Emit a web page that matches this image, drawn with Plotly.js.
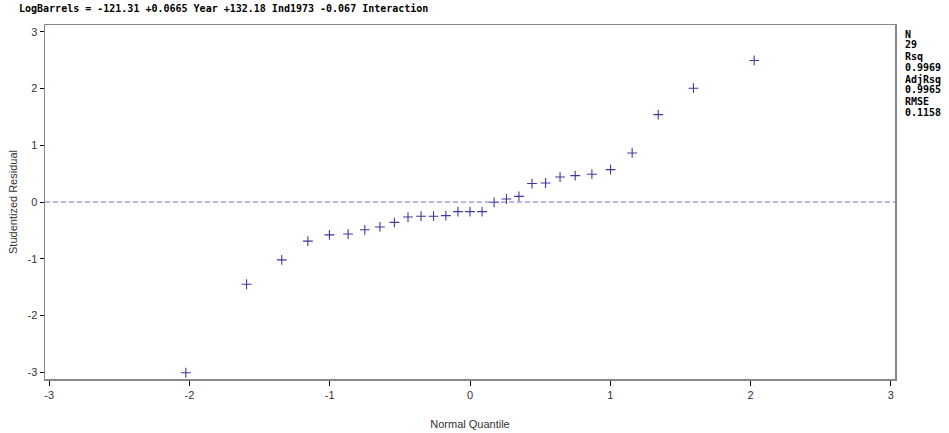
<!DOCTYPE html>
<html>
<head>
<meta charset="utf-8">
<script src="https://cdn.plot.ly/plotly-3.0.1.min.js"></script>
<style>html,body{margin:0;padding:0;background:#fff;}#chart{width:949px;height:433px;}</style>
</head>
<body>
<div id="chart"></div>
<script>
// Normal quantiles (x)
const normalQuantile = [-2.026, -1.593, -1.342, -1.156, -1.002, -0.869, -0.750, -0.642, -0.539, -0.442,
  -0.349, -0.260, -0.172, -0.086, 0.000, 0.086, 0.172, 0.260, 0.349, 0.442,
  0.539, 0.642, 0.750, 0.869, 1.002, 1.156, 1.342, 1.593, 2.026];
// Studentized residuals (y)
const studentizedResidual = [-3.01, -1.45, -1.02, -0.69, -0.58, -0.565, -0.49, -0.44, -0.36, -0.265,
  -0.25, -0.25, -0.24, -0.17, -0.17, -0.17, -0.005, 0.053, 0.10, 0.325,
  0.335, 0.44, 0.465, 0.49, 0.57, 0.865, 1.54, 2.006, 2.495];
const tickValues = [-3, -2, -1, 0, 1, 2, 3];
const tickLabels = ['-3', '-2', '-1', '0', '1', '2', '3'];
const titleText = 'LogBarrels = -121.31 +0.0665 Year +132.18 Ind1973 -0.067 Interaction';
const statLabels = ['N', '29', 'Rsq', '0.9969', 'AdjRsq', '0.9965', 'RMSE', '0.1158'];
const referenceY = [0];

const monoFont = {family: 'DejaVu Sans Mono, monospace', size: 10, color: '#000', weight: 'bold'};
const statRowPx = [34, 44.5, 56.5, 67, 79, 89.5, 101.5, 112];

const traces = [{
  x: normalQuantile,
  y: studentizedResidual,
  type: 'scatter',
  mode: 'markers',
  marker: {symbol: 'cross-thin', size: 7, line: {color: '#3a3a9e', width: 1.1}, color: '#3a3a9e'},
  hoverinfo: 'x+y',
  showlegend: false
}];

const statAnnotations = statLabels.map((t, i) => ({
  text: '<b>' + t + '</b>',
  xref: 'paper', yref: 'paper',
  x: 1.0094, y: 1 - (statRowPx[i] - 25) / 354,
  xanchor: 'left', yanchor: 'middle',
  showarrow: false,
  font: monoFont
}));

const layout = {
  width: 949, height: 433,
  margin: {l: 45, r: 54, t: 25, b: 54},
  paper_bgcolor: '#fff', plot_bgcolor: '#fff',
  title: {
    text: '<b>' + titleText + '</b>',
    x: 19 / 949, xanchor: 'left', xref: 'container',
    y: 1 - 8.5 / 433, yanchor: 'middle', yref: 'container',
    font: monoFont
  },
  xaxis: {
    range: [-3.03, 3.03],
    tickvals: tickValues, ticktext: tickLabels,
    ticks: 'outside', ticklen: 5, tickcolor: '#000', tickwidth: 1,
    showline: true, linecolor: '#888', linewidth: 1.5, mirror: true,
    showgrid: false, zeroline: false,
    tickfont: {family: 'Liberation Sans, Arial, sans-serif', size: 11, color: '#333'},
    title: {text: 'Normal Quantile', standoff: 20, font: {family: 'Liberation Sans, Arial, sans-serif', size: 11, color: '#333'}}
  },
  yaxis: {
    range: [-3.12, 3.12],
    tickvals: tickValues, ticktext: tickLabels,
    ticks: 'outside', ticklen: 4, tickcolor: '#000', tickwidth: 1,
    showline: true, linecolor: '#888', linewidth: 1.5, mirror: true,
    showgrid: false, zeroline: false,
    tickfont: {family: 'Liberation Sans, Arial, sans-serif', size: 11, color: '#333'},
    title: {text: 'Studentized Residual', standoff: 7, font: {family: 'Liberation Sans, Arial, sans-serif', size: 11, color: '#333'}}
  },
  shapes: referenceY.map(v => ({
    type: 'line', xref: 'paper', yref: 'y', x0: 0, x1: 1, y0: v, y1: v,
    line: {color: '#7070d0', width: 1.2, dash: '5px,3px'}
  })),
  annotations: statAnnotations
};

Plotly.newPlot('chart', traces, layout, {displayModeBar: false, staticPlot: true});
</script>
</body>
</html>
